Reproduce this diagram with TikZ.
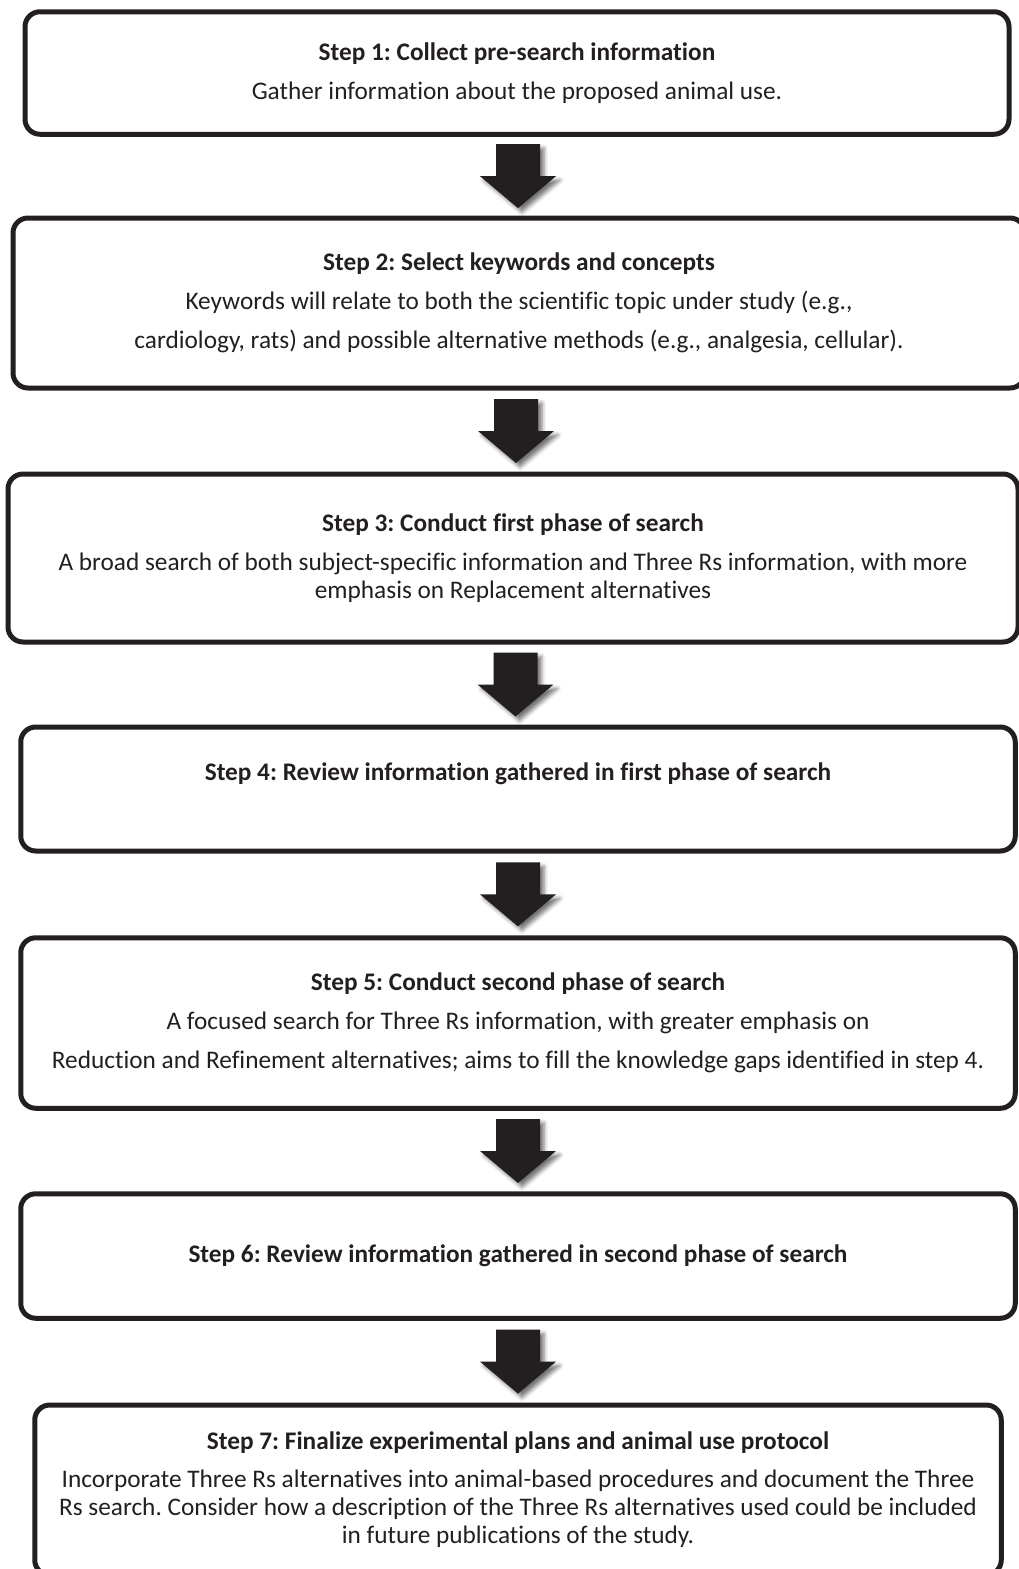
\documentclass[tikz,border=0pt]{standalone}
\usepackage{fontspec}
\setmainfont{Carlito}[Ligatures=NoCommon]
\frenchspacing
\usetikzlibrary{calc,shadows.blur}
\definecolor{inkdark}{RGB}{35,31,32}

\tikzset{
  stepbox/.style={draw=inkdark, line width=5pt, rounded corners=15pt,
    inner sep=0pt, align=center, text=inkdark,
    font=\fontsize{25.3}{28}\selectfont},
  arrowfill/.style={fill=inkdark, blur shadow={shadow xshift=4pt,
    shadow yshift=-4pt, shadow blur radius=4pt, shadow opacity=55}}
}
\newcommand\stepArrow[2]{%
  \fill[arrowfill] let \p1=($(#1.south)!0.5!(#2.north)$) in
    (\x1-22pt,\y1+32pt) -- (\x1+22pt,\y1+32pt) -- (\x1+22pt,\y1)
    -- (\x1+38pt,\y1) -- (\x1,\y1-32pt) -- (\x1-38pt,\y1)
    -- (\x1-22pt,\y1) -- cycle;}

\begin{document}
\begin{tikzpicture}[x=1pt,y=-1pt]
  \useasboundingbox (0,0) rectangle (1018,1569);

  \node[stepbox, minimum width=984, minimum height=122.5] (s1) at (517,73)
    {\textbf{Step 1: Collect pre-search information}\\[11pt]
     Gather information about the proposed animal use.};
  \node[stepbox, minimum width=1012, minimum height=170] (s2) at (519,303)
    {\textbf{Step 2: Select keywords and concepts}\\[11pt]
     Keywords will relate to both the scientific topic under study (e.g.,\\[11pt]
     cardiology, rats) and possible alternative methods (e.g., analgesia, cellular).};
  \node[stepbox, minimum width=1010, minimum height=168] (s3) at (513,558)
    {\textbf{Step 3: Conduct first phase of search}\\[11pt]
     A broad search of both subject-specific information and Three Rs information, with more\\
     emphasis on Replacement alternatives};
  \node[stepbox, minimum width=994.5, minimum height=124] (s4) at (518,789)
    {\textbf{Step 4: Review information gathered in first phase of search}\\[7pt]\mbox{}};
  \node[stepbox, minimum width=994.5, minimum height=170.5] (s5) at (518,1023)
    {\textbf{Step 5: Conduct second phase of search}\\[11pt]
     A focused search for Three Rs information, with greater emphasis on\\[11pt]
     Reduction and Refinement alternatives; aims to fill the knowledge gaps identified in step 4.};
  \node[stepbox, minimum width=994.5, minimum height=124.5] (s6) at (518,1256)
    {\textbf{Step 6: Review information gathered in second phase of search}};
  \node[stepbox, minimum width=966.5, minimum height=170] (s7) at (518,1490)
    {\textbf{Step 7: Finalize experimental plans and animal use protocol}\\[10pt]
     Incorporate Three Rs alternatives into animal-based procedures and document the Three\\
     Rs search. Consider how a description of the Three Rs alternatives used could be included\\
     in future publications of the study.};

  \foreach \a/\b in {s1/s2,s2/s3,s3/s4,s4/s5,s5/s6,s6/s7}
    \stepArrow{\a}{\b};
\end{tikzpicture}
\end{document}
